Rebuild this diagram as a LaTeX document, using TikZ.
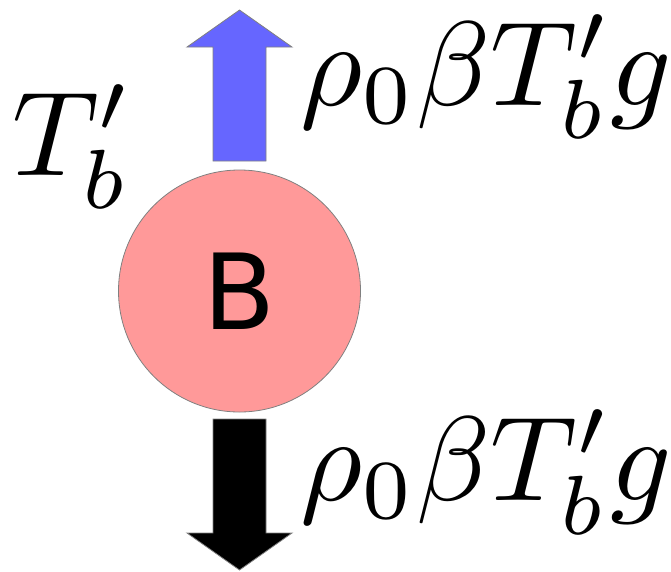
\documentclass[tikz,border=0pt]{standalone}
\usepackage{graphicx}
\usepackage{fontspec}
\newfontfamily\labelsans{DejaVu Sans}
\definecolor{ballpink}{HTML}{FF9999}
\definecolor{upblue}{HTML}{6666FF}
\definecolor{edgegray}{HTML}{808080}
\newcommand{\bigmath}[1]{\scalebox{12}{\fontsize{10}{12}\selectfont$#1$}}
\tikzset{
  forcelabel/.style={inner sep=0pt, anchor=base west},
  fatarrow/.style={draw=edgegray, line width=0.8pt},
}
\begin{document}
\begin{tikzpicture}[x=1pt,y=-1pt]
\useasboundingbox (0,0) rectangle (671,571);
% body
\node[circle, draw=edgegray, line width=0.8pt, fill=ballpink, minimum size=242pt, inner sep=0pt] (ball) at (239.5,291) {};
\node[font=\labelsans\fontsize{105}{120}\selectfont, inner sep=0pt] (blabel) at (ball.center) {B};
% upward (buoyancy) arrow
\coordinate (uptip) at (239.5,10);
\filldraw[fatarrow, fill=upblue] (213,161) -- (213,47) -- (187,47) -- (uptip) -- (292,47) -- (266,47) -- (266,161) -- cycle;
% downward (weight) arrow
\coordinate (downtip) at (239.5,570);
\filldraw[fatarrow, fill=black] (213,419) -- (213,533) -- (187,533) -- (downtip) -- (292,533) -- (266,533) -- (266,419) -- cycle;
% labels
\node[forcelabel] (tb) at (12,175) {\bigmath{T'_b}};
\node[forcelabel] (fup) at (300,105) {\bigmath{\rho_0\beta T'_b g}};
\node[forcelabel] (fdown) at (300,500) {\bigmath{\rho_0\beta T'_b g}};
\end{tikzpicture}
\end{document}
